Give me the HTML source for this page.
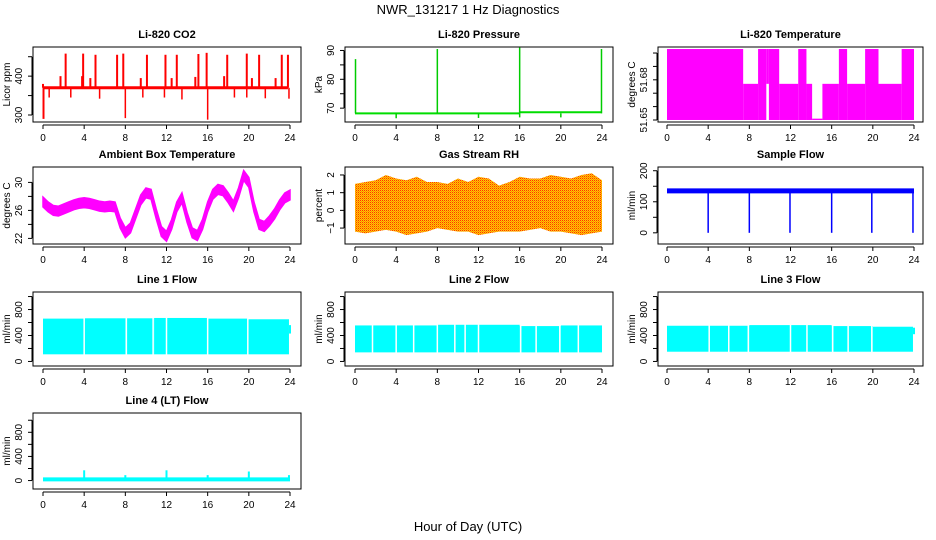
<!DOCTYPE html>
<html><head><meta charset="utf-8">
<style>
html,body{margin:0;padding:0;background:#fff;}
svg{display:block;font-family:"Liberation Sans",sans-serif;}
</style></head>
<body>
<svg id="fig" width="936" height="540" viewBox="0 0 936 540" xmlns="http://www.w3.org/2000/svg">
<defs>
<pattern id="rhpat" width="2" height="2" patternUnits="userSpaceOnUse">
<rect width="2" height="2" fill="#ffcc00"/><rect width="1" height="1" fill="#ff3000"/><rect x="1" y="1" width="1" height="1" fill="#ff8800"/>
</pattern>
</defs>
<text x="468" y="14" text-anchor="middle" font-size="13">NWR_131217  1 Hz Diagnostics</text>
<text x="468" y="531" text-anchor="middle" font-size="13">Hour of Day (UTC)</text>
</svg>
<script>
// ---------- data ----------
const xTicks = [0,4,8,12,16,20,24];
const co2Base = 370;
const co2SpikeHours = [0.0,0.05,1.7,2.2,3.8,3.9,4.6,5.1,7.2,7.8,9.5,10.1,11.9,12.5,13.0,14.8,15.1,15.9,17.6,17.9,19.8,20.3,21.0,22.6,23.2,23.8];
const co2SpikeValues = [380,290,400,458,400,458,395,455,455,458,395,455,455,395,455,398,457,460,400,455,458,395,455,395,455,455];
const co2DipHours = [0.6,2.7,5.5,8.0,9.7,11.8,13.5,16.0,18.6,19.8,21.6,23.9];
const co2DipValues = [345,345,342,292,345,345,340,288,345,345,343,342];

const presBaseHours = [0,16,16,24];
const presBaseValues = [68.2,68.2,68.6,68.6];
const presSpikeHours = [0.05,8.0,16.0,23.95];
const presSpikeValues = [87,90.5,91,90.5];
const presDipHours = [4.0,12.0,16.0,20.0];
const presDipValues = [66.5,66.6,66.8,66.8];

const tempSegStart = [0,7.4,8.85,9.65,9.9,10.9,12.75,13.55,14.1,15.1,16.7,17.5,19.25,20.55,22.8];
const tempSegEnd   = [7.4,8.85,9.65,9.9,10.9,12.75,13.55,14.1,15.1,16.7,17.5,19.25,20.55,22.8,24.0];
const tempSegHigh  = [51.703,51.677,51.703,51.703,51.703,51.677,51.703,51.677,51.651,51.677,51.703,51.677,51.703,51.677,51.703];
const tempSegLow   = [51.650,51.650,51.650,51.677,51.650,51.650,51.650,51.650,51.650,51.650,51.650,51.650,51.650,51.650,51.650];
const tempTicks = [51.65,51.66,51.67,51.68,51.69,51.70];
const tempTickLabels = ["51.65","","","51.68","",""];

const ambHours = [0,0.5,1,1.5,2,2.5,3,3.5,4,4.5,5,5.5,6,6.5,7,7.5,8,8.5,9,9.5,10,10.5,11,11.5,12,12.5,13,13.5,14,14.5,15,15.5,16,16.5,17,17.5,18,18.5,19,19.5,20,20.5,21,21.5,22,22.5,23,23.5,24];
const ambValues = [27.2,26.5,26.0,25.9,26.2,26.5,26.8,27.0,27.1,27.0,26.8,26.6,26.5,26.6,26.5,24.2,22.8,23.5,25.5,27.5,28.5,28.3,25.5,23.0,22.3,24.0,26.5,27.8,25.0,22.8,22.4,24.0,26.5,28.3,29.0,28.8,27.8,26.6,28.5,31.0,30.0,26.5,24.0,23.7,24.5,25.5,26.8,27.8,28.2];
const ambBand = 0.7;

const rhHours = [0,1,2,3,4,5,6,7,8,9,10,11,12,13,14,15,16,17,18,19,20,21,22,23,24];
const rhUpper = [1.5,1.6,1.7,2.0,1.8,1.7,1.9,1.6,1.6,1.5,1.8,1.6,1.9,1.8,1.4,1.6,1.9,1.8,1.8,2.0,1.9,1.8,2.0,2.1,1.7];
const rhLower = [-1.2,-1.3,-1.2,-1.1,-1.2,-1.4,-1.3,-1.2,-1.0,-1.1,-1.2,-1.2,-1.4,-1.3,-1.2,-1.2,-1.2,-1.1,-1.0,-1.2,-1.2,-1.3,-1.4,-1.3,-1.2];

const sfBase = 135;
const sfDropHours = [4.0,8.0,11.95,16.0,19.9,23.9];
const sfDropValues = [0,0,0,0,0,0];

const l1StepStart = [0,4,8,10.8,12,16,19.9];
const l1StepEnd   = [4,8,10.8,12,16,19.9,23.9];
const l1StepTop   = [660,665,665,670,670,660,650];
const l1Bottom = 110;
const l1Gaps = [4.0,8.1,10.7,12.0,16.0,19.9];

const l2StepStart = [0,8,12,16,20];
const l2StepEnd   = [8,12,16,20,24];
const l2StepTop   = [555,565,565,545,555];
const l2Bottom = 140;
const l2Gaps = [1.7,4.0,5.7,8.0,9.7,10.7,12.0,16.1,17.6,19.9,21.7];

const l3StepStart = [0,8,12,16,20];
const l3StepEnd   = [8,12,16,20,23.9];
const l3StepTop   = [550,560,560,545,535];
const l3Bottom = 150;
const l3Gaps = [4.1,6.0,7.9,12.0,13.6,16.1,17.6,19.9];

const l4Base = 20;
const l4SpikeHours = [4.0,8.0,12.0,16.0,20.0,23.9];
const l4SpikeValues = [170,90,170,90,150,90];

// ---------- helpers ----------
const NS = "http://www.w3.org/2000/svg";
const svg = document.getElementById("fig");
function mk(tag, attrs, parent){
  const e = document.createElementNS(NS, tag);
  for (const k in attrs) e.setAttribute(k, attrs[k]);
  (parent||svg).appendChild(e);
  return e;
}
const cols = [{bx0:33,bx1:301,x0:43,x1:290},{bx0:345,bx1:613,x0:355,x1:602},{bx0:658,bx1:923,x0:667,x1:914}];
const rows = [{by0:47,by1:122},{by0:167,by1:244},{by0:292,by1:366},{by0:413,by1:489}];

function panel(name, title, col, row, ymin, ymax, yTicks, yLabels, ylab){
  const c = cols[col], r = rows[row];
  const g = mk("g", {});
  
  
  const X = h => c.x0 + (c.x1 - c.x0) * h / 24;
  const Y = v => r.by1 - (r.by1 - r.by0) * (v - ymin) / (ymax - ymin);
  const t = mk("text", {x:(c.bx0+c.bx1)/2, y:r.by0-9, "text-anchor":"middle", "font-size":"11", "font-weight":"bold"}, g);
  t.textContent = title;
  
  
  const box = mk("rect", {x:c.bx0, y:r.by0, width:c.bx1-c.bx0, height:r.by1-r.by0, fill:"none", stroke:"#000", "stroke-width":"1"}, g);
  
  
  // x axis
  const xa = mk("g", {}, g);
  
  
  mk("line", {x1:X(xTicks[0]), x2:X(xTicks[xTicks.length-1]), y1:r.by1+3, y2:r.by1+3, stroke:"#000"}, xa);
  xTicks.forEach(h => {
    mk("line", {x1:X(h), x2:X(h), y1:r.by1+3, y2:r.by1+7, stroke:"#000"}, xa);
    const tl = mk("text", {x:X(h), y:r.by1+19, "text-anchor":"middle", "font-size":"10"}, xa);
    tl.textContent = h;
  });
  // y axis
  const ya = mk("g", {}, g);
  
  
  const ax = c.bx0 - 1;
  mk("line", {x1:ax, x2:ax, y1:Y(yTicks[0]), y2:Y(yTicks[yTicks.length-1]), stroke:"#000"}, ya);
  yTicks.forEach((v,i) => {
    mk("line", {x1:ax-4, x2:ax, y1:Y(v), y2:Y(v), stroke:"#000"}, ya);
    if (yLabels[i] !== "") {
      const tl = mk("text", {x:0, y:0, "text-anchor":"middle", "font-size":"10", transform:`translate(${ax-10},${Y(v)}) rotate(-90)`}, ya);
      tl.textContent = yLabels[i];
    }
  });
  const yl = mk("text", {x:0, y:0, "text-anchor":"middle", "font-size":"10", transform:`translate(${c.bx0-23},${(r.by0+r.by1)/2}) rotate(-90)`}, g);
  yl.textContent = ylab;
  
  
  const plot = mk("g", {}, g);
  
  
  return {X, Y, plot, r, c};
}
function vline(p, h, v0, v1, color, w){
  mk("line", {x1:p.X(h), x2:p.X(h), y1:p.Y(v0), y2:p.Y(v1), stroke:color, "stroke-width":w||1.5}, p.plot);
}
function hline(p, h0, h1, v, color, w){
  mk("line", {x1:p.X(h0), x2:p.X(h1), y1:p.Y(v), y2:p.Y(v), stroke:color, "stroke-width":w||2}, p.plot);
}
function stepFill(p, starts, ends, tops, bottom, gaps, color){
  starts.forEach((s,i) => {
    mk("rect", {x:p.X(s), y:p.Y(tops[i]), width:p.X(ends[i])-p.X(s), height:p.Y(bottom)-p.Y(tops[i]), fill:color}, p.plot);
  });
  gaps.forEach(h => vline(p, h, bottom-10, 720, "#fff", 1.5));
}

// ---------- CO2 ----------
let p = panel("co2", "Li-820 CO2", 0, 0, 282, 475, [300,350,400,450], ["300","","400",""], "Licor ppm");
hline(p, 0, 23.8, co2Base, "#ff0000", 3);
co2SpikeHours.forEach((h,i) => vline(p, h, co2Base, co2SpikeValues[i], "#ff0000", 2));
co2DipHours.forEach((h,i) => vline(p, h, co2Base, co2DipValues[i], "#ff0000", 1.5));

// ---------- Pressure ----------
p = panel("pressure", "Li-820 Pressure", 1, 0, 65.2, 91.2, [70,75,80,85,90], ["70","","80","","90"], "kPa");
for (let i=0;i<presBaseHours.length-1;i++) if (presBaseHours[i]!==presBaseHours[i+1]) {
  mk("line", {x1:p.X(presBaseHours[i]), x2:p.X(presBaseHours[i+1]), y1:p.Y(presBaseValues[i]), y2:p.Y(presBaseValues[i+1]), stroke:"#00dd00", "stroke-width":2}, p.plot);
}
presSpikeHours.forEach((h,i) => vline(p, h, 68.2, presSpikeValues[i], "#00cc00", 1.5));
presDipHours.forEach((h,i) => vline(p, h, 68.2, presDipValues[i], "#00cc00", 1.5));

// ---------- Li-820 Temperature ----------
p = panel("li820-temp", "Li-820 Temperature", 2, 0, 51.6485, 51.7045, tempTicks, tempTickLabels, "degrees C");
tempSegStart.forEach((s,i) => {
  mk("rect", {x:p.X(s), y:p.Y(tempSegHigh[i]), width:p.X(tempSegEnd[i])-p.X(s), height:Math.max(1,p.Y(tempSegLow[i])-p.Y(tempSegHigh[i])), fill:"#ff00ff"}, p.plot);
});

// ---------- Ambient Box Temperature ----------
p = panel("ambient-temp", "Ambient Box Temperature", 0, 1, 21.2, 32.2, [22,24,26,28,30], ["22","","26","","30"], "degrees C");
{
  const up = ambHours.map((h,i)=>`${p.X(h)},${p.Y(ambValues[i]+ambBand)}`);
  const lo = ambHours.map((h,i)=>`${p.X(h)},${p.Y(ambValues[i]-ambBand)}`).reverse();
  mk("polygon", {points: up.concat(lo).join(" "), fill:"#ff00ff", stroke:"#ff00ff", "stroke-width":1.5}, p.plot);
}

// ---------- Gas Stream RH ----------
p = panel("gas-rh", "Gas Stream RH", 1, 1, -1.9, 2.45, [-1,0,1,2], ["\u22121","0","1","2"], "percent");
{
  const up = rhHours.map((h,i)=>`${p.X(h)},${p.Y(rhUpper[i])}`);
  const lo = rhHours.map((h,i)=>`${p.X(h)},${p.Y(rhLower[i])}`).reverse();
  mk("polygon", {points: up.concat(lo).join(" "), fill:"url(#rhpat)"}, p.plot);
}

// ---------- Sample Flow ----------
p = panel("sample-flow", "Sample Flow", 2, 1, -36, 212, [0,50,100,150,200], ["0","","100","","200"], "ml/min");
hline(p, 0, 24, sfBase, "#0000ff", 5);
sfDropHours.forEach((h,i) => vline(p, h, sfBase, sfDropValues[i], "#0000ff", 1.5));

// ---------- Line flows ----------
const lfTicks = [0,200,400,600,800,1000], lfLabels = ["0","","400","","800",""];
p = panel("line1-flow", "Line 1 Flow", 0, 2, -70, 1070, lfTicks, lfLabels, "ml/min");
stepFill(p, l1StepStart, l1StepEnd, l1StepTop, l1Bottom, l1Gaps, "#00ffff");
vline(p, 24, 430, 560, "#00ffff", 2);
p = panel("line2-flow", "Line 2 Flow", 1, 2, -70, 1070, lfTicks, lfLabels, "ml/min");
stepFill(p, l2StepStart, l2StepEnd, l2StepTop, l2Bottom, l2Gaps, "#00ffff");
p = panel("line3-flow", "Line 3 Flow", 2, 2, -70, 1070, lfTicks, lfLabels, "ml/min");
stepFill(p, l3StepStart, l3StepEnd, l3StepTop, l3Bottom, l3Gaps, "#00ffff");
vline(p, 24, 420, 520, "#00ffff", 2);
p = panel("line4-flow", "Line 4 (LT) Flow", 0, 3, -140, 1120, lfTicks, lfLabels, "ml/min");
hline(p, 0, 24, l4Base, "#00ffff", 4);
l4SpikeHours.forEach((h,i) => vline(p, h, l4Base, l4SpikeValues[i], "#00ffff", 2));
</script>
</body></html>
